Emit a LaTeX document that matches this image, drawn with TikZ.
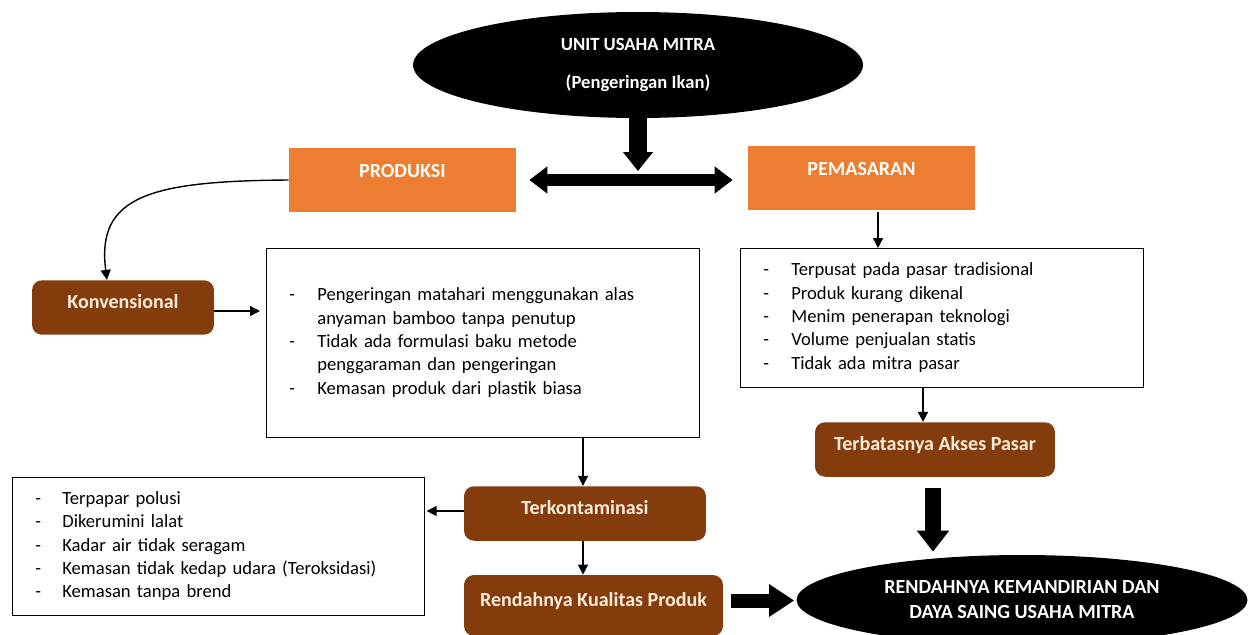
\documentclass[tikz,border=0pt]{standalone}
\usepackage{fontspec}
\setmainfont{Carlito}
\usetikzlibrary{shapes.geometric,arrows.meta}
\definecolor{oranye}{HTML}{ED7D31}
\definecolor{coklat}{HTML}{843C0C}
\definecolor{krem}{RGB}{252,236,220}
\newcommand{\isi}{\fontsize{10.6}{13.3}\selectfont}
\newcommand{\judul}{\fontsize{11.4}{14.2}\selectfont\bfseries}
\tikzset{
  headnode/.style  = {ellipse, fill=black, text=white, font=\judul,
                      align=center, inner sep=0pt},
  mainbox/.style   = {rectangle, fill=oranye, text=white, font=\judul,
                      minimum width=4.54cm, inner ysep=0pt,
                      text height=0.59cm, text depth=0.69cm},
  causebox/.style  = {rectangle, rounded corners=2mm, fill=coklat, text=krem,
                      font=\judul, inner ysep=0pt,
                      text height=0.57cm, text depth=0.52cm},
  listbox/.style   = {rectangle, draw, anchor=north west, font=\isi,
                      inner xsep=0.46cm, inner ysep=0pt, align=left},
  flow/.style      = {thick, -{Triangle[length=2mm,width=2mm]}}
}
\begin{document}
\begin{tikzpicture}[x=0.02cm, y=-0.02cm]
  \useasboundingbox (0,0) rectangle (1250,635);

  \node[headnode, font=\isi\bfseries, minimum width=9cm, minimum height=2.12cm] (unit) at (638,65)
    {UNIT USAHA MITRA\\[0.3cm](Pengeringan Ikan)};
  \coordinate (split) at (638,171);

  \node[mainbox] (prod)  at (402.5,180) {PRODUKSI};
  \node[mainbox] (pemas) at (861.5,178) {PEMASARAN};

  \node[causebox, minimum width=3.64cm] (konv) at (123,307.5) {Konvensional};

  \node[listbox, text width=7.74cm, minimum height=3.78cm] (cara) at (266,248)
    {\begin{tabular}{@{}p{0.56cm}@{}l@{}}
     - & Pengeringan matahari menggunakan alas\\
       & anyaman bamboo tanpa penutup\\
     - & Tidak ada formulasi baku metode\\
       & penggaraman dan pengeringan\\
     - & Kemasan produk dari plastik biasa
     \end{tabular}};

  \node[listbox, text width=7.14cm, minimum height=2.78cm] (pasar) at (740,248)
    {\begin{tabular}{@{}p{0.56cm}@{}l@{}}
     - & Terpusat pada pasar tradisional\\
     - & Produk kurang dikenal\\
     - & Menim penerapan teknologi\\
     - & Volume penjualan statis\\
     - & Tidak ada mitra pasar
     \end{tabular}};

  \node[causebox, minimum width=4.8cm] (akses) at (935,449.5) {Terbatasnya Akses Pasar};
  \node[causebox, minimum width=4.84cm] (kontam) at (585,513.5) {Terkontaminasi};

  \node[listbox, text width=7.32cm, minimum height=2.76cm] (dampak) at (12,477)
    {\begin{tabular}{@{}p{0.54cm}@{}l@{}}
     - & Terpapar polusi\\
     - & Dikerumini lalat\\
     - & Kadar air tidak seragam\\
     - & Kemasan tidak kedap udara (Teroksidasi)\\
     - & Kemasan tanpa brend
     \end{tabular}};

  \node[causebox, minimum width=5.18cm, text height=0.62cm, text depth=0.6cm]
    (mutu) at (593.5,605.5) {Rendahnya Kualitas Produk};

  \node[headnode, minimum width=9.02cm, minimum height=1.8cm] (hasil) at (1022,600)
    {RENDAHNYA KEMANDIRIAN DAN\\DAYA SAING USAHA MITRA};

  \draw[line width=0.36cm, -{Triangle[width=0.58cm,length=0.38cm]}] (unit.south) -- (split);
  \draw[line width=0.24cm, {Triangle[width=0.52cm,length=0.36cm]}-{Triangle[width=0.52cm,length=0.36cm]},
        shorten <=0.26cm, shorten >=0.3cm] (prod.east) -- (prod.east -| pemas.west);

  \draw[flow] (prod.west) .. controls (150,181) and (96,196) .. ([xshift=-0.32cm]konv.north);
  \draw[flow, shorten >=0.12cm] ([yshift=-0.07cm]konv.east) -- ([yshift=-0.07cm]konv.east -| cara.west);
  \draw[flow] ([xshift=-0.04cm]kontam.north |- cara.south) -- ([xshift=-0.04cm]kontam.north);
  \draw[flow, shorten >=0.04cm] ([yshift=0.05cm]kontam.west) -- ([yshift=0.05cm]kontam.west -| dampak.east);
  \draw[flow] ([xshift=-0.04cm]kontam.south) -- ([xshift=-0.04cm]kontam.south |- mutu.north);

  \draw[flow, shorten <=0.04cm] ([xshift=0.33cm]pemas.south) -- ([xshift=0.33cm]pemas.south |- pasar.north);
  \draw[flow] ([xshift=-0.24cm]akses.north |- pasar.south) -- ([xshift=-0.24cm]akses.north);

  \draw[line width=0.32cm, -{Triangle[width=0.62cm,length=0.42cm]},
        shorten <=0.22cm, shorten >=0.06cm] ([xshift=-0.04cm]akses.south) -- ([xshift=-0.04cm]akses.south |- hasil.north);
  \draw[line width=0.28cm, -{Triangle[width=0.62cm,length=0.5cm]},
        shorten <=0.16cm, shorten >=0.04cm] ([yshift=0.1cm]mutu.east) -- ([yshift=0.1cm]mutu.east -| hasil.west);
\end{tikzpicture}
\end{document}
